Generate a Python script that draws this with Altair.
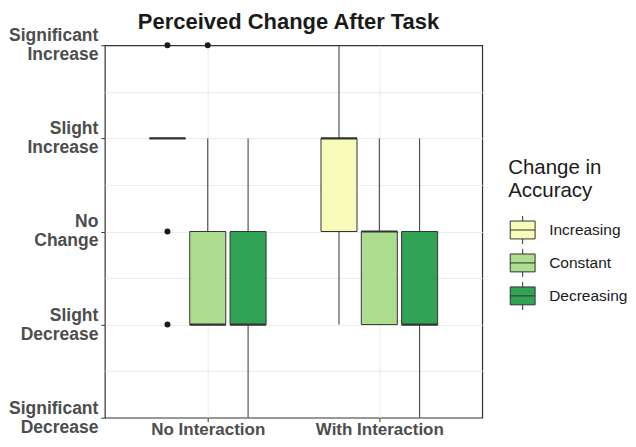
import altair as alt
import pandas as pd

# ---- data ----
title_text = "Perceived Change After Task"
groups = ["No Interaction", "With Interaction"]
levels = ["Increasing", "Constant", "Decreasing"]
level_colors = ["#f7fcb9", "#addd8e", "#31a354"]

box_group = [0, 0, 0, 1, 1, 1]
box_level = ["Increasing", "Constant", "Decreasing", "Increasing", "Constant", "Decreasing"]
whisker_low = [1, -1, -2, -1, -1, -2]
q1 = [1, -1, -1, 0, -1, -1]
median = [1, -1, -1, 1, 0, -1]
q3 = [1, 0, 0, 1, 0, 0]
whisker_high = [1, 1, 1, 2, 1, 1]

outlier_group = [0, 0, 0, 0]
outlier_level = ["Increasing", "Increasing", "Increasing", "Constant"]
outlier_value = [2, 0, -1, 2]

y_values = [-2, -1.5, -1, -0.5, 0, 0.5, 1, 1.5, 2]
y_labels = {2: ["Significant", "Increase"], 1: ["Slight", "Increase"], 0: ["No", "Change"],
            -1: ["Slight", "Decrease"], -2: ["Significant", "Decrease"]}

# ---- layout helpers (dodge) ----
DODGE = 0.235
HALF = 0.105
W, H = 378, 373


def xpos(g, lvl):
    return g + (levels.index(lvl) - 1) * DODGE


boxes = pd.DataFrame({
    "group": box_group, "level": box_level, "low": whisker_low, "q1": q1,
    "median": median, "q3": q3, "high": whisker_high,
})
boxes["xc"] = [xpos(g, l) for g, l in zip(boxes.group, boxes.level)]
boxes["xl"] = boxes.xc - HALF
boxes["xr"] = boxes.xc + HALF

outs = pd.DataFrame({"group": outlier_group, "level": outlier_level, "value": outlier_value})
outs["xc"] = [xpos(g, l) for g, l in zip(outs.group, outs.level)]

label_expr = " : ".join(
    f"datum.value == {k} ? {v!r}" for k, v in y_labels.items()
) + " : ''"
x_label_expr = f"datum.value == 0 ? '{groups[0]}' : '{groups[1]}'"

xscale = alt.Scale(domain=[-0.6, 1.6], nice=False, zero=False)
yscale = alt.Scale(domain=[-2, 2], nice=False, zero=False)

xaxis = alt.Axis(values=[0, 1], labelExpr=x_label_expr, title=None, grid=True,
                 gridColor="#ebebeb", domain=False, tickColor="#333333", tickSize=4,
                 labelFontSize=17, labelFontWeight="bold", labelColor="#4d4d4d",
                 labelPadding=0, labelFont="Liberation Sans")
yaxis = alt.Axis(values=y_values, labelExpr=label_expr, title=None, grid=True,
                 gridColor="#ebebeb", domain=False, tickColor="#333333", tickSize=4,
                 gridOpacity={"condition": {"test": "abs(datum.value) == 2", "value": 0}, "value": 1},
                 tickOpacity={"condition": {"test": "datum.value % 1 != 0", "value": 0}, "value": 1},
                 labelFontSize=17.5, labelFontWeight="bold", labelColor="#4d4d4d",
                 labelLineHeight=19, labelPadding=3, labelBaseline="middle", labelOffset=-9.5,
                 labelFont="Liberation Sans")

base = alt.Chart(boxes)

whiskers = base.mark_rule(color="#333333", strokeWidth=1).encode(
    x=alt.X("xc:Q", scale=xscale, axis=xaxis),
    y=alt.Y("low:Q", scale=yscale, axis=yaxis),
    y2="high:Q",
)

legend_path = "M-0.89,-0.64H0.89V0.64H-0.89Z M-0.89,0H0.89 M0,-0.64V-1 M0,0.64V1"

bars = base.mark_bar(stroke="#333333", strokeWidth=1).encode(
    x="xl:Q", x2="xr:Q", y="q1:Q", y2="q3:Q",
    color=alt.Color("level:N", scale=alt.Scale(domain=levels, range=level_colors),
                    legend=alt.Legend(
                        title=["Change in", "Accuracy"], orient="none",
                        legendX=404, legendY=113, padding=0,
                        titleFontSize=20.5, titleFontWeight="normal", titleColor="#1a1a1a",
                        titleLineHeight=23, titleFont="Liberation Sans", titlePadding=14,
                        labelFontSize=15.5, labelColor="#1a1a1a", labelFont="Liberation Sans",
                        labelOffset=12, symbolType=legend_path, symbolSize=784,
                        symbolStrokeColor="#333333", symbolStrokeWidth=1,
                        rowPadding=0, symbolOpacity=1)),
)

medians = base.mark_rule(color="#333333", strokeWidth=2.2).encode(
    x="xl:Q", x2="xr:Q", y="median:Q",
)

points = alt.Chart(outs).mark_circle(color="#1a1a1a", opacity=1, size=36).encode(
    x="xc:Q", y="value:Q",
)

title = alt.Chart(pd.DataFrame({"t": [title_text]})).mark_text(
    fontSize=22, fontWeight="bold", color="#1a1a1a", font="Liberation Sans",
    align="center", baseline="alphabetic",
).encode(text="t:N", x=alt.value(184), y=alt.value(-16))

chart = alt.layer(whiskers, bars, medians, points, title).properties(
    width=W, height=H,
    padding={"left": 0, "top": 3, "right": 0, "bottom": 0},
).configure_view(stroke="#333333", strokeWidth=1.2)

chart.save("out.html", embed_options={"renderer": "svg", "actions": False})
